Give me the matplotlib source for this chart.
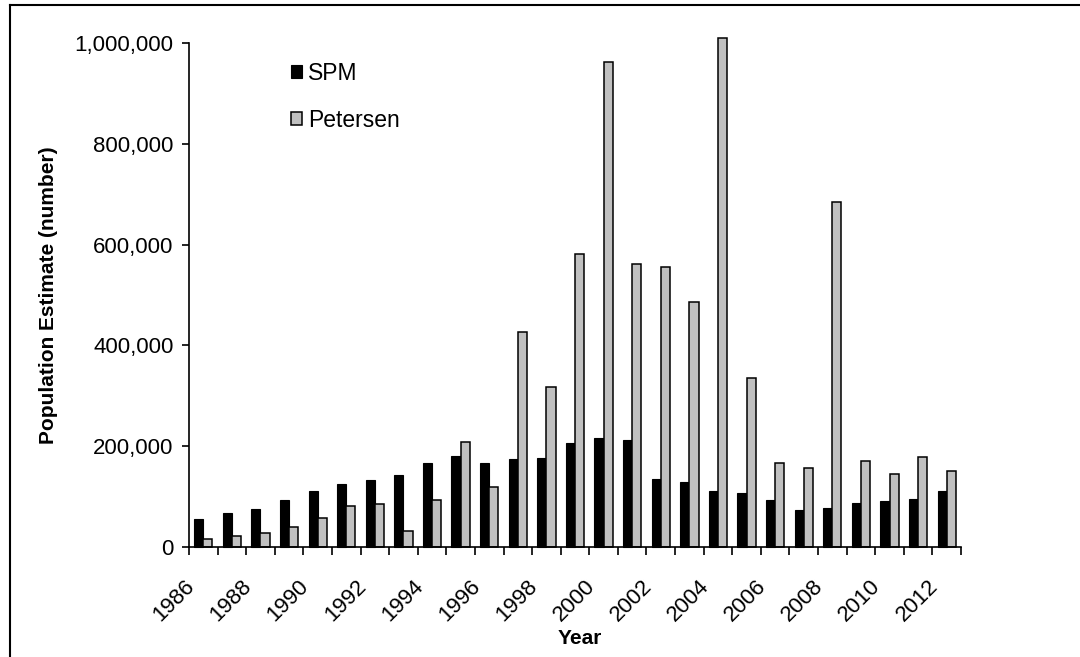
import matplotlib
matplotlib.use("Agg")
import matplotlib.pyplot as plt
from matplotlib.lines import Line2D
from matplotlib.ticker import FuncFormatter
from matplotlib.transforms import ScaledTranslation
import numpy as np

years = list(range(1986, 2013))
spm = [55000, 67000, 75000, 93000, 111000, 125000, 133000, 143000, 167000,
       181000, 167000, 175000, 177000, 206000, 216000, 212000, 135000, 129000,
       111000, 107000, 93000, 73000, 77000, 87000, 91000, 95000, 112000]
petersen = [16000, 22000, 28000, 40000, 58000, 81000, 85000, 32000, 93000,
            208000, 119000, 427000, 318000, 581000, 962000, 561000, 555000, 486000,
            1010000, 335000, 167000, 157000, 685000, 170000, 145000, 178000, 150000]
tick_labels = [str(y) for y in years[::2]]

plt.rcParams['font.family'] = ['Liberation Sans', 'DejaVu Sans']

W, H = 1080, 657
fig = plt.figure(figsize=(W / 100, H / 100), dpi=100)
ax = fig.add_axes([189 / W, 1 - 547 / H, (961 - 189) / W, (547 - 43) / H])

x = np.arange(len(years))
bw = 0.32
ax.bar(x - bw / 2, spm, width=bw, color='black', edgecolor='black', linewidth=0.8,
       label='SPM', clip_on=False)
ax.bar(x + bw / 2, petersen, width=bw, color='#C0C0C0', edgecolor='black', linewidth=1.1,
       label='Petersen', clip_on=False)

ax.set_xlim(-0.5, len(years) - 0.5)
ax.set_ylim(0, 1000000)
ax.set_yticks(np.arange(0, 1000001, 200000))
ax.yaxis.set_major_formatter(FuncFormatter(lambda v, p: f"{int(v):,}"))

ax.set_xticks(np.arange(-0.5, len(years), 1.0))
ax.set_xticklabels([])
ax.set_xticks(x[::2], tick_labels, minor=True)
ax.tick_params(axis='x', which='major', direction='out', length=6, width=1.2, color='black')
ax.tick_params(axis='x', which='minor', length=0, pad=26, labelsize=16)
shift = ScaledTranslation(-12 / 100, 0, fig.dpi_scale_trans)
for lbl in ax.get_xticklabels(minor=True):
    lbl.set_rotation(45)
    lbl.set_ha('right')
    lbl.set_va('center')
    lbl.set_rotation_mode('anchor')
    lbl.set_transform(lbl.get_transform() + shift)
ax.tick_params(axis='y', direction='out', length=5, width=1.2, labelsize=16, pad=6)

for s in ['top', 'right']:
    ax.spines[s].set_visible(False)
for s in ['left', 'bottom']:
    ax.spines[s].set_linewidth(1.2)

ax.set_ylabel('Population Estimate (number)', fontsize=15, fontweight='bold', labelpad=12)
fig.text(580 / W, 1 - 638 / H, 'Year', fontsize=15, fontweight='bold', ha='center', va='center')

ax.legend(loc='upper left', bbox_to_anchor=((291 - 189) / (961 - 189), (547 - 62) / (547 - 43)),
          frameon=False, fontsize=16.5, handlelength=0.5, handleheight=0.5,
          handletextpad=0.25, labelspacing=1.05, borderpad=0, borderaxespad=0)

fig.add_artist(Line2D([10 / W, 1.0], [1 - 5 / H, 1 - 5 / H], color='black', linewidth=1.5))
fig.add_artist(Line2D([10 / W, 10 / W], [0, 1 - 5 / H], color='black', linewidth=1.5))

fig.savefig('out.png', dpi=100)
